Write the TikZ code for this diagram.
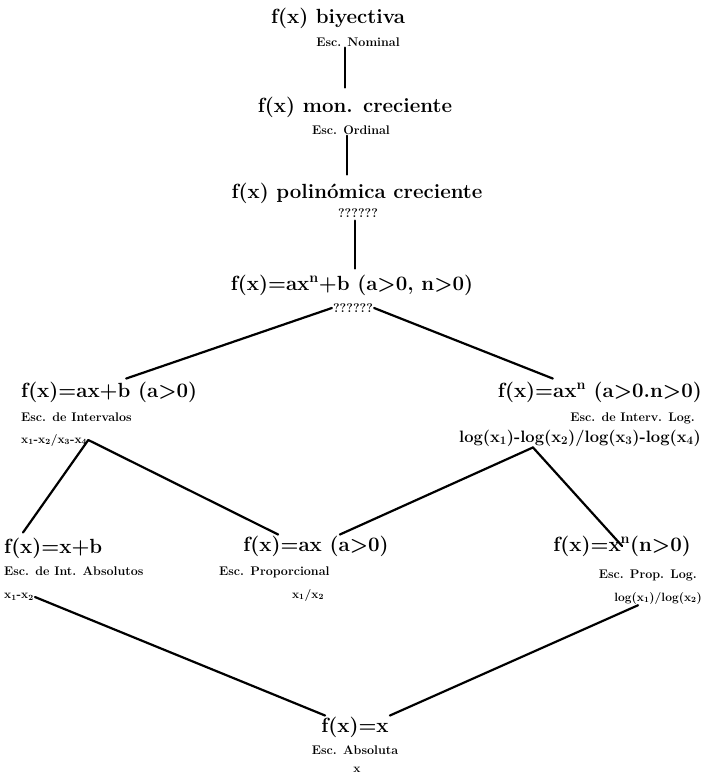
\documentclass[tikz,border=0pt]{standalone}
\usepackage{tikz}

\begin{document}
\begin{tikzpicture}[
			x=1pt, y=-1pt,
			every node/.style={inner sep=1pt},
			func/.style={font=\bfseries\fontsize{20.5}{24}\selectfont},
			escala/.style={font=\bfseries\fontsize{12.5}{14}\selectfont},
			logform/.style={font=\bfseries\fontsize{16.5}{20}\selectfont},
			subform/.style={font=\bfseries\fontsize{12}{14}\selectfont},
			rama/.style={line width=2.2pt, line cap=round}
			]

			\useasboundingbox (0,0) rectangle (704,781);

			% cadena de arriba
			\node[func] (biy) at (338,18) {f(x) biyectiva};
			\node[escala] (nom) at (358,42) {Esc. Nominal};
			\node[func] (mon) at (355,107) {f(x) mon. creciente};
			\node[escala] (ord) at (351,130) {Esc. Ordinal};
			\node[func] (pol) at (357,193) {f(x) polin\'omica creciente};
			\node[escala] (qa) at (358,213) {??????};
			\node[func] (pot) at (352,285) {f(x)=ax\textsuperscript{n}+b (a>0, n>0)};
			\node[escala] (qb) at (353,308) {??????};

			% intervalos
			\node[func,anchor=west] (lin) at (20,392) {f(x)=ax+b (a>0)};
			\node[escala,anchor=west] (int) at (20,417) {Esc. de Intervalos};
			\node[subform,anchor=west] (intf) at (20,440) {x\textsubscript{1}-x\textsubscript{2}/x\textsubscript{3}-x\textsubscript{4}};

			\node[func,anchor=east] (exp) at (703,392) {f(x)=ax\textsuperscript{n} (a>0.n>0)};
			\node[escala,anchor=east] (ilog) at (696,418) {Esc. de Interv. Log.};
			\node[logform,anchor=east] (ilogf) at (702,438) {log(x\textsubscript{1})-log(x\textsubscript{2})/log(x\textsubscript{3})-log(x\textsubscript{4})};

			% proporcionales
			\node[func,anchor=west] (af) at (3,548) {f(x)=x+b};
			\node[escala,anchor=west] (afe) at (3,571) {Esc. de Int. Absolutos};
			\node[subform,anchor=west] (aff) at (3,597) {x\textsubscript{1}-x\textsubscript{2}};

			\node[func] (prop) at (316,546) {f(x)=ax (a>0)};
			\node[escala,anchor=west] (prope) at (218,572) {Esc. Proporcional};
			\node[subform] (propf) at (308,595) {x\textsubscript{1}/x\textsubscript{2}};

			\node[func,anchor=east] (plog) at (692,546) {f(x)=x\textsuperscript{n}(n>0)};
			\node[escala,anchor=east] (ploge) at (698,575) {Esc. Prop. Log.};
			\node[subform,anchor=east] (plogf) at (703,598) {log(x\textsubscript{1})/log(x\textsubscript{2})};

			% absoluta
			\node[func] (abs) at (355,727) {f(x)=x};
			\node[escala] (abse) at (355,750) {Esc. Absoluta};
			\node[subform] (absf) at (357,770) {x};

			% conectores
			\draw[rama] ([xshift=-13pt]nom.south) -- ([xshift=-10pt,yshift=8pt]mon.north);
			\draw[rama] ([xshift=-4pt]ord.south) -- ([xshift=-10pt,yshift=7pt]pol.north);
			\draw[rama] ([xshift=-3pt,yshift=-2pt]qa.south) -- ([xshift=3pt,yshift=5pt]pot.north);

			\draw[rama] (qb.west) -- ([xshift=17pt,yshift=2pt]lin.north);
			\draw[rama] (qb.east) -- ([xshift=56pt,yshift=2pt]exp.north west);

			\draw[rama] (intf.east) -- ([xshift=20pt,yshift=4pt]af.north west);
			\draw[rama] (intf.east) -- ([xshift=36pt]prop.north west);

			\draw[rama] ([xshift=-47pt]ilogf.south) -- ([xshift=-50pt]prop.north east);
			\draw[rama] ([xshift=-47pt]ilogf.south) -- (plog.center);

			\draw[rama] (aff.east) -- ([xshift=5pt]abs.north west);
			\draw[rama] ([xshift=-20pt]plogf.south) -- (abs.north east);

			\end{tikzpicture}
\end{document}
